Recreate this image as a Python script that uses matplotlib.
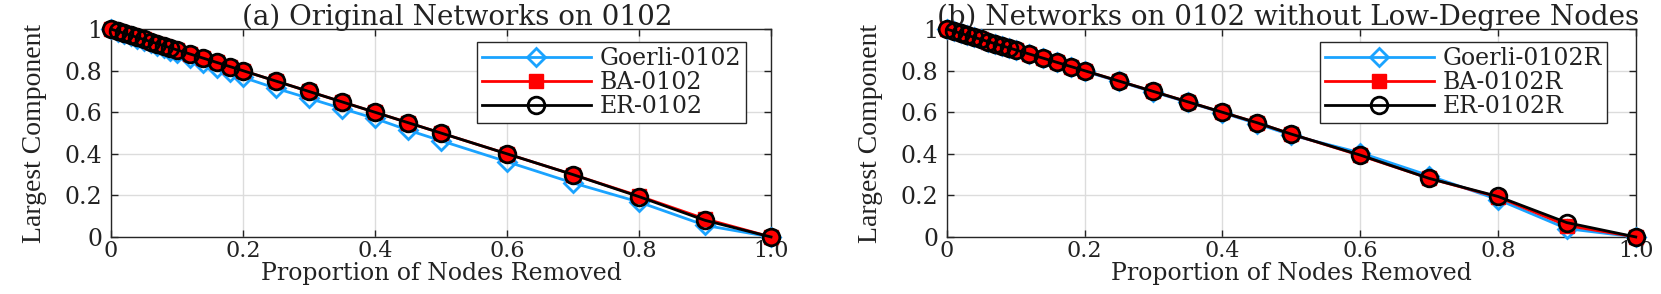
import matplotlib
matplotlib.use("Agg")
import matplotlib.pyplot as plt

# --- data ---
x = [0, 0.01, 0.02, 0.03, 0.04, 0.05, 0.06, 0.07, 0.08, 0.09, 0.10,
     0.12, 0.14, 0.16, 0.18, 0.20, 0.25, 0.30, 0.35, 0.40, 0.45, 0.50,
     0.60, 0.70, 0.80, 0.90, 1.00]

# (a) original networks
goerli_a = [1.0, 0.988, 0.977, 0.965, 0.954, 0.942, 0.931, 0.919, 0.907, 0.896, 0.884,
            0.861, 0.838, 0.815, 0.792, 0.768, 0.715, 0.667, 0.618, 0.570, 0.514, 0.463,
            0.362, 0.260, 0.168, 0.056, 0.0]
ba_a = [1.0, 0.99, 0.98, 0.97, 0.96, 0.95, 0.94, 0.93, 0.92, 0.91, 0.90,
        0.88, 0.86, 0.84, 0.82, 0.80, 0.75, 0.70, 0.65, 0.60, 0.55, 0.50,
        0.40, 0.30, 0.197, 0.087, 0.0]
er_a = [1.0, 0.99, 0.98, 0.97, 0.96, 0.95, 0.94, 0.93, 0.92, 0.91, 0.90,
        0.88, 0.86, 0.84, 0.82, 0.80, 0.75, 0.70, 0.65, 0.60, 0.55, 0.50,
        0.40, 0.30, 0.194, 0.080, 0.0]

# (b) networks without low-degree nodes
goerli_b = [1.0, 0.99, 0.98, 0.97, 0.96, 0.95, 0.94, 0.93, 0.92, 0.91, 0.90,
            0.88, 0.86, 0.84, 0.82, 0.797, 0.748, 0.697, 0.648, 0.598, 0.545, 0.490,
            0.405, 0.295, 0.180, 0.040, 0.0]
ba_b = [1.0, 0.99, 0.98, 0.97, 0.96, 0.95, 0.94, 0.93, 0.92, 0.91, 0.90,
        0.88, 0.86, 0.84, 0.82, 0.80, 0.75, 0.70, 0.65, 0.60, 0.55, 0.495,
        0.392, 0.282, 0.192, 0.055, 0.0]
er_b = [1.0, 0.99, 0.98, 0.97, 0.96, 0.95, 0.94, 0.93, 0.92, 0.91, 0.90,
        0.88, 0.86, 0.84, 0.82, 0.80, 0.75, 0.70, 0.65, 0.60, 0.55, 0.495,
        0.394, 0.282, 0.195, 0.069, 0.0]

titles = ["(a) Original Networks on 0102",
          "(b) Networks on 0102 without Low-Degree Nodes"]
labels_a = ["Goerli-0102", "BA-0102", "ER-0102"]
labels_b = ["Goerli-0102R", "BA-0102R", "ER-0102R"]
xticks = [0, 0.2, 0.4, 0.6, 0.8, 1.0]
xtick_labels = ["0", "0.2", "0.4", "0.6", "0.8", "1.0"]
yticks = [0, 0.2, 0.4, 0.6, 0.8, 1.0]
ytick_labels = ["0", "0.2", "0.4", "0.6", "0.8", "1"]

# wide serif for the horizontal texts, Times-like for the y label
wide = "DejaVu Serif"
narrow = "Liberation Serif"
plt.rcParams["font.family"] = wide

fig = plt.figure(figsize=(16.61, 2.94), dpi=100)
ax1 = fig.add_axes([0.0668, 0.194, 0.3974, 0.707])
ax2 = fig.add_axes([0.5700, 0.194, 0.4148, 0.707])

blue = "#1aa3ff"
txt = "#222222"
# axes, series, legend labels, title, title x, legend anchor
panels = [(ax1, goerli_a, ba_a, er_a, labels_a, titles[0], 0.524, (0.555, 0.9375)),
          (ax2, goerli_b, ba_b, er_b, labels_b, titles[1], 0.496, (0.542, 0.9375))]

for ax, g, b, e, labs, ttl, tx, loc in panels:
    ax.plot(x, g, color=blue, lw=2, marker="D", ms=9, mfc="none", mec=blue, mew=2,
            label=labs[0], zorder=3, clip_on=False)
    ax.plot(x, b, color="red", lw=2, marker="s", ms=10, mfc="red", mec="red",
            label=labs[1], zorder=4, clip_on=False)
    ax.plot(x, e, color="black", lw=2, marker="o", ms=12, mfc="none", mec="black", mew=2,
            label=labs[2], zorder=5, clip_on=False)

    ax.set_xlim(0, 1)
    ax.set_ylim(0, 1)
    ax.set_xticks(xticks)
    ax.set_xticklabels(xtick_labels)
    ax.set_yticks(yticks)
    ax.set_yticklabels(ytick_labels)
    ax.grid(True, color="#dcdcdc", lw=1)
    ax.set_axisbelow(True)
    ax.tick_params(direction="in", top=True, right=True, length=5, width=1, colors=txt)
    ax.tick_params(axis="x", labelsize=16, pad=2)
    ax.tick_params(axis="y", labelsize=17, pad=6)
    for s in ax.spines.values():
        s.set_color("#262626")
        s.set_linewidth(1)

    ax.set_title(ttl, fontsize=20, pad=3, color=txt, x=tx)
    ax.set_xlabel("Proportion of Nodes Removed", fontsize=17, labelpad=0, color=txt)
    ax.set_ylabel("Largest Component", fontsize=20, labelpad=13, color=txt, family=narrow)

    leg = ax.legend(loc="upper left", bbox_to_anchor=loc, handlelength=4.6,
                    prop={"family": wide, "size": 17},
                    frameon=True, fancybox=False, edgecolor="#262626", framealpha=1,
                    borderpad=0.2, labelspacing=0.05, handletextpad=0.4, borderaxespad=0)
    leg.get_frame().set_linewidth(1)
    for t in leg.get_texts():
        t.set_color(txt)

fig.savefig("out.png", dpi=100)
